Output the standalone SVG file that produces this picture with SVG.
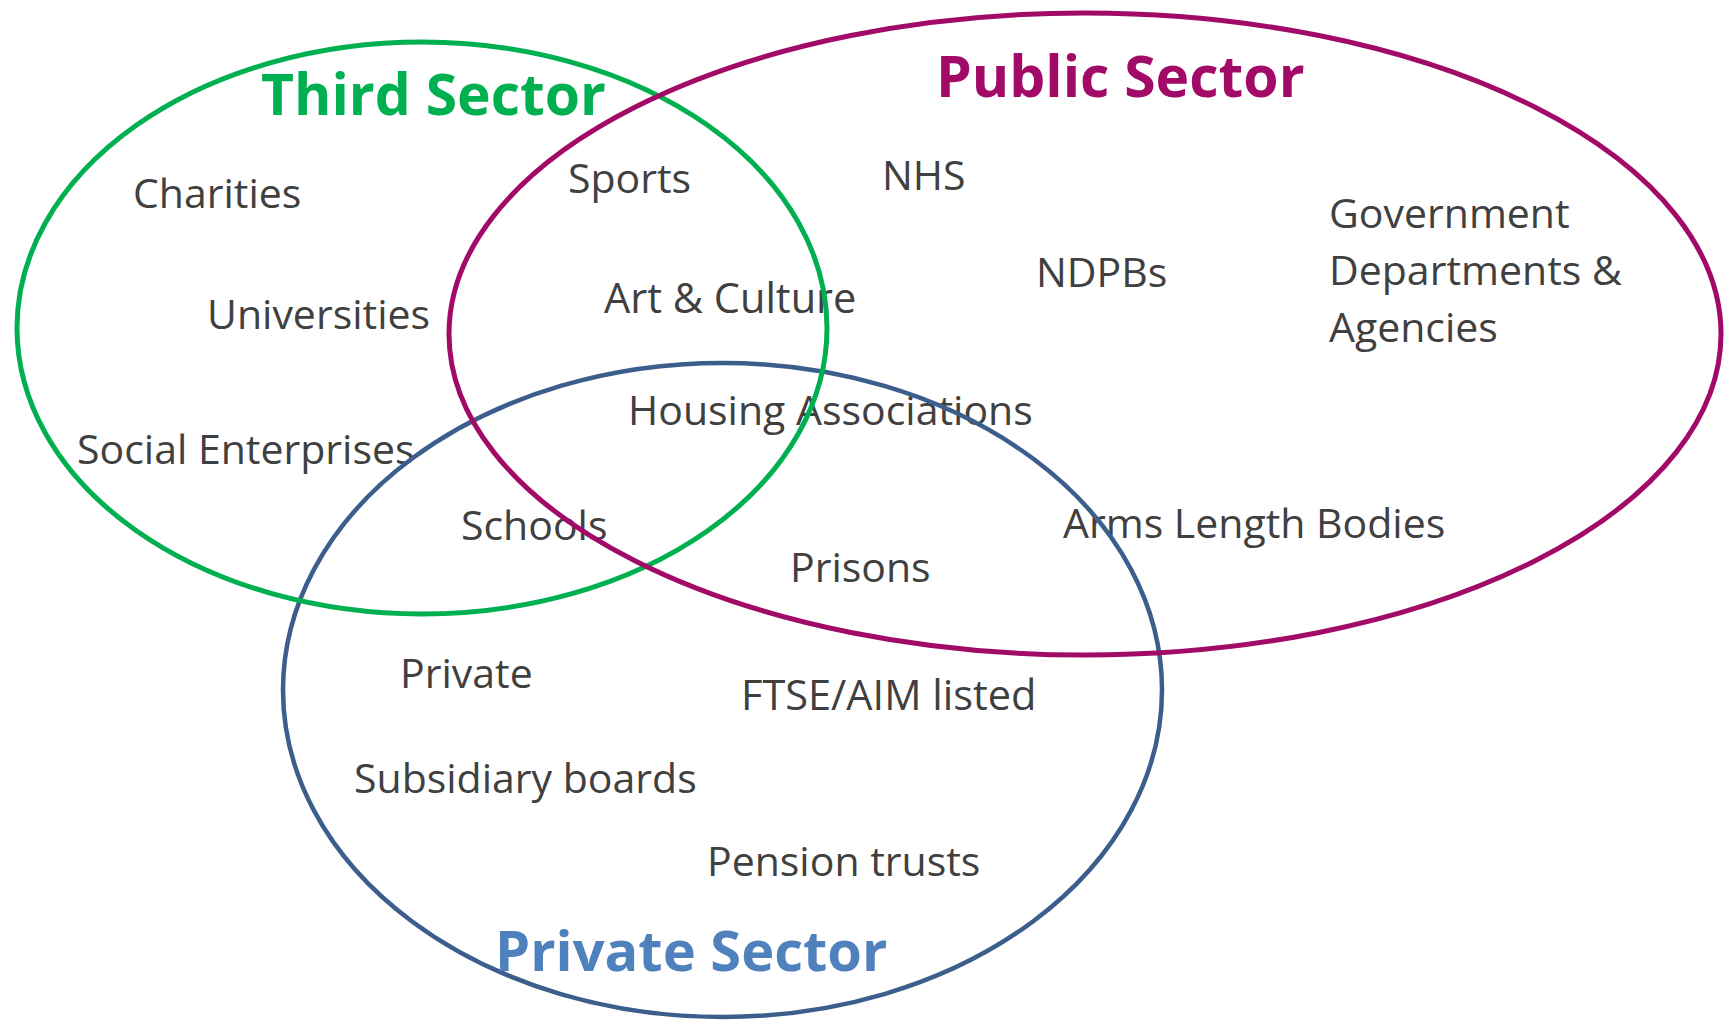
<svg xmlns="http://www.w3.org/2000/svg" width="1729" height="1024" viewBox="0 0 1729 1024">
<style>
.lbl{font-family:"Open Sans","Noto Sans",sans-serif;font-size:41px;fill:#404040}
.ttl{font-family:"Open Sans","Noto Sans",sans-serif;font-size:57px;font-weight:bold}
.ring{fill:none}
</style>
<rect width="1729" height="1024" fill="#ffffff"/>
<g id="labels">
<text class="lbl" x="133" y="208">Charities</text>
<text class="lbl" x="568" y="193">Sports</text>
<text class="lbl" x="207" y="329">Universities</text>
<text class="lbl" x="604" y="313" style="font-size:41.5px">Art &amp; Culture</text>
<text class="lbl" x="628" y="425">Housing Associations</text>
<text class="lbl" x="77" y="464">Social Enterprises</text>
<text class="lbl" x="461" y="540">Schools</text>
<text class="lbl" x="882" y="190">NHS</text>
<text class="lbl" x="1036" y="287">NDPBs</text>
<text class="lbl" x="1329" y="228">Government</text>
<text class="lbl" x="1329" y="285">Departments &amp;</text>
<text class="lbl" x="1329" y="342">Agencies</text>
<text class="lbl" x="1063" y="538">Arms Length Bodies</text>
<text class="lbl" x="790" y="582">Prisons</text>
<text class="lbl" x="400" y="688">Private</text>
<text class="lbl" x="741" y="710" style="font-size:41.5px">FTSE/AIM listed</text>
<text class="lbl" x="354" y="793">Subsidiary boards</text>
<text class="lbl" x="707" y="876">Pension trusts</text>
</g>
<g id="private-sector">
<ellipse class="ring" cx="722.5" cy="690" rx="439.5" ry="327" stroke="#3B5E8C" stroke-width="4.5"/>
<text class="ttl" x="495" y="971" fill="#4F81BD" style="font-size:56px">Private Sector</text>
</g>
<g id="third-sector">
<ellipse class="ring" cx="422" cy="328" rx="405" ry="286" stroke="#00B050" stroke-width="5"/>
<text class="ttl" x="261" y="115" fill="#00B050">Third Sector</text>
</g>
<g id="public-sector">
<ellipse class="ring" cx="1085" cy="334" rx="636" ry="321" stroke="#A20A68" stroke-width="5"/>
<text class="ttl" x="936" y="97" fill="#A20A68">Public Sector</text>
</g>
<g id="connectors"></g>
</svg>
